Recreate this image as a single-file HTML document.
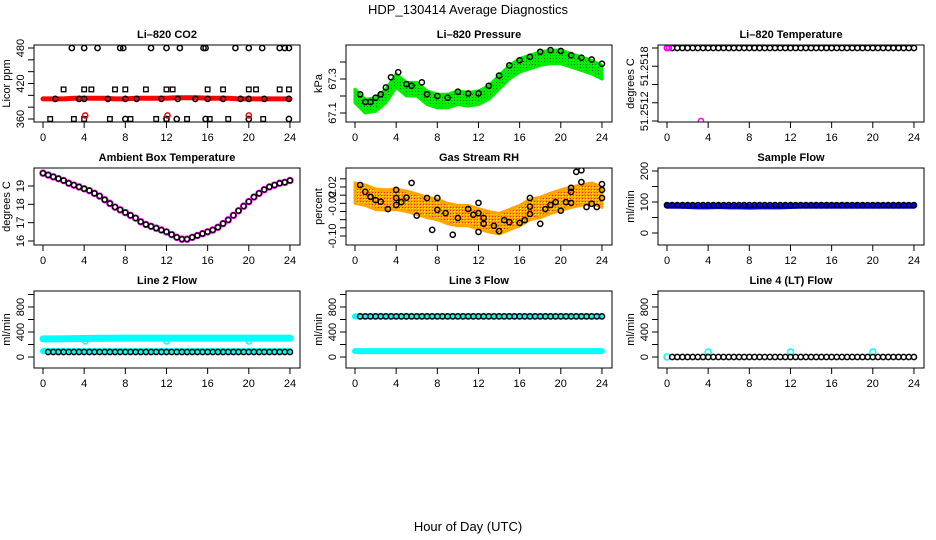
<!DOCTYPE html>
<html><head><meta charset="utf-8">
<style>
html,body{margin:0;padding:0;background:#fff;}
svg{display:block;font-family:"Liberation Sans",Arial,sans-serif;}
</style></head>
<body>
<svg id="chart" width="936" height="540" viewBox="0 0 936 540">
<defs>
<pattern id="greenPat" width="3" height="3" patternUnits="userSpaceOnUse"><rect width="3" height="3" fill="#00ee00"/><rect x="1" y="1" width="1" height="1" fill="#006600"/></pattern>
<pattern id="orangePat" width="3" height="3" patternUnits="userSpaceOnUse"><rect width="3" height="3" fill="#ffa500"/><rect x="1" y="1" width="1" height="1" fill="#ffff00"/><rect x="0" y="0" width="1" height="1" fill="#ff2000"/></pattern>
</defs>
<text x="468" y="14" text-anchor="middle" font-size="13">HDP_130414  Average Diagnostics</text>
<text x="468" y="531" text-anchor="middle" font-size="13">Hour of Day (UTC)</text>
</svg>
<script>
const halfHours=[0,0.5,1,1.5,2,2.5,3,3.5,4,4.5,5,5.5,6,6.5,7,7.5,8,8.5,9,9.5,10,10.5,11,11.5,12,12.5,13,13.5,14,14.5,15,15.5,16,16.5,17,17.5,18,18.5,19,19.5,20,20.5,21,21.5,22,22.5,23,23.5,24];
const hours=[0,1,2,3,4,5,6,7,8,9,10,11,12,13,14,15,16,17,18,19,20,21,22,23,24];
const xTicks=[0,4,8,12,16,20,24];
// CO2
const co2Red=[394,394,394,395,395,395,395,394,394,395,395,395,395,396,396,396,395,395,395,394,394,394,394,394,394];
const co2CircHigh=[2.8,4,5.3,7.5,7.8,10.5,12,13.3,15.6,15.8,18.7,20,21.3,23,23.5,23.9];
const co2CircMid=[1.2,3.5,4,6.3,8,9.1,11.5,13.1,14.8,16,17.5,19.2,20,21.5,23.9];
const co2CircLow=[8,12,13,15.8,20,23.9];
const co2SqMid=[2,4,4.7,7,8,10,12,12.6,16,17.5,20,20.7,23,23.9];
const co2SqLow=[0.7,3,4,6.5,8.5,11,12,14,16.2,18,21.4];
const co2RedCirc=[4.1,12.1,20];
// Pressure
const presHours=[0.5,1,1.5,2,2.5,3,3.5,4.2,5,5.5,6.5,7,8,9,10,11,12,13,14,15,16,17,18,19,20,21,22,23,24];
const presVals=[67.21,67.165,67.165,67.19,67.21,67.25,67.31,67.34,67.27,67.26,67.28,67.21,67.2,67.19,67.225,67.215,67.215,67.26,67.32,67.38,67.41,67.43,67.46,67.47,67.465,67.44,67.425,67.415,67.39];
const presGreen=[67.2,67.14,67.15,67.2,67.29,67.24,67.24,67.19,67.17,67.17,67.19,67.18,67.19,67.22,67.28,67.34,67.38,67.4,67.42,67.43,67.43,67.41,67.39,67.37,67.34];
// Temperature
const tempBlack=[51.2518,51.2518,51.2518,51.2518,51.2518,51.2518,51.2518,51.2518,51.2518,51.2518,51.2518,51.2518,51.2518,51.2518,51.2518,51.2518,51.2518,51.2518,51.2518,51.2518,51.2518,51.2518,51.2518,51.2518,51.2518];
const tempMagentaHours=[0,0.2,3.3];
const tempMagentaVals=[51.2518,51.2518,51.2512];
// Ambient
const ambHours=[0,0.5,1,1.5,2,2.5,3,3.5,4,4.5,5,5.5,6,6.5,7,7.5,8,8.5,9,9.5,10,10.5,11,11.5,12,12.5,13,13.5,14,14.5,15,15.5,16,16.5,17,17.5,18,18.5,19,19.5,20,20.5,21,21.5,22,22.5,23,23.5,24];
const ambVals=[19.7,19.6,19.5,19.4,19.3,19.15,19.05,18.95,18.85,18.75,18.6,18.45,18.25,18.05,17.85,17.7,17.55,17.4,17.25,17.05,16.9,16.8,16.7,16.6,16.5,16.35,16.2,16.1,16.1,16.2,16.3,16.4,16.5,16.6,16.75,16.95,17.15,17.4,17.65,17.9,18.15,18.4,18.6,18.8,18.95,19.05,19.15,19.2,19.3];
// RH
const rhHours=[0.5,1,1.5,2,2.5,3.2,4,4,4,4.5,5,5.5,6,7,7.5,8,8,8.8,9.5,10,11,11.5,12,12,12,12.5,12.5,13.5,14,14.5,15,16,16.5,17,17,17,18,18.5,19,19.5,20,20.5,21,21,21,21.5,22,22,22.5,23,23.5,24,24,24];
const rhVals=[0.025,0.008,-0.004,-0.012,-0.016,-0.034,0.013,-0.024,-0.007,-0.017,-0.006,0.03,-0.05,-0.007,-0.085,-0.007,-0.036,-0.044,-0.097,-0.056,-0.034,-0.048,-0.044,-0.019,-0.09,-0.056,-0.07,-0.075,-0.088,-0.061,-0.066,-0.068,-0.061,-0.007,-0.028,-0.046,-0.07,-0.034,-0.024,-0.017,-0.038,-0.017,-0.019,0.018,0.008,0.057,0.032,0.061,-0.029,-0.021,-0.029,0.013,-0.007,0.027];
const rhCloud=[0.005,0.0,-0.01,-0.012,-0.01,-0.015,-0.022,-0.03,-0.035,-0.045,-0.05,-0.05,-0.058,-0.065,-0.07,-0.06,-0.05,-0.035,-0.03,-0.02,-0.012,-0.005,0.0,0.005,-0.005];
// Flows
const sampleBlue=[88,88,87,86,86,87,86,86,85,86,86,86,87,88,88,88,88,88,88,88,88,88,88,88,88];
const sampleBlack=[90,90,90,90,90,90,90,90,90,90,90,90,90,90,90,90,90,90,90,90,90,90,90,90,90,90,90,90,90,90,90,90,90,90,90,90,90,90,90,90,90,90,90,90,90,90,90,90,90];
const line2Upper=[290,290,292,294,296,298,300,300,302,302,302,302,302,302,302,302,302,302,302,302,302,302,302,302,302];
const line2Lower=[95,95,95,95,95,95,95,95,95,95,95,95,95,95,95,95,95,95,95,95,95,95,95,95,95];
const line2Black=[80,80,80,80,80,80,80,80,80,80,80,80,80,80,80,80,80,80,80,80,80,80,80,80,80,80,80,80,80,80,80,80,80,80,80,80,80,80,80,80,80,80,80,80,80,80,80,80,80];
const line2Dips=[4.1,12,20];
const line3Upper=[650,650,650,650,650,650,650,650,650,650,650,650,650,650,650,650,650,650,650,650,650,650,650,650,650];
const line3Lower=[95,95,95,95,95,95,95,95,95,95,95,95,95,95,95,95,95,95,95,95,95,95,95,95,95];
const line3Black=[650,650,650,650,650,650,650,650,650,650,650,650,650,650,650,650,650,650,650,650,650,650,650,650,650,650,650,650,650,650,650,650,650,650,650,650,650,650,650,650,650,650,650,650,650,650,650,650,650];
const line4Black=[0,0,0,0,0,0,0,0,0,0,0,0,0,0,0,0,0,0,0,0,0,0,0,0,0,0,0,0,0,0,0,0,0,0,0,0,0,0,0,0,0,0,0,0,0,0,0,0,0];
const line4CyanHours=[0,4,12,20];
const line4CyanVals=[0,80,80,80];

const NS='http://www.w3.org/2000/svg';
const svg=document.getElementById('chart');
function mk(tag,attrs,parent){const e=document.createElementNS(NS,tag);for(const k in attrs)e.setAttribute(k,attrs[k]);(parent||svg).appendChild(e);return e;}

function panel(col,row,cfg){
  const L=34+312*col, R=L+266, T=45+123*row, B=T+77;
  const g=mk('g',{});
  
  
  const xs=h=>L+9+h*10.29;
  const ys=v=>T+cfg.p1+(v-cfg.v1)*(cfg.p2-cfg.p1)/(cfg.v2-cfg.v1);
  const t=mk('text',{x:(L+R)/2,y:T-7,'text-anchor':'middle','font-size':11,'font-weight':'bold'},g);
  t.textContent=cfg.title;
  
  
  const xa=mk('g',{},g);
  
  
  mk('line',{x1:xs(0),x2:xs(24),y1:B,y2:B,stroke:'#000'},xa);
  xTicks.forEach(h=>{mk('line',{x1:xs(h),x2:xs(h),y1:B,y2:B+6,stroke:'#000'},xa);
    const l=mk('text',{x:xs(h),y:B+19,'text-anchor':'middle','font-size':11},xa);l.textContent=h;});
  const ya=mk('g',{},g);
  
  
  const tk=cfg.ticks;
  mk('line',{x1:L,x2:L,y1:ys(tk[0]),y2:ys(tk[tk.length-1]),stroke:'#000'},ya);
  tk.forEach(v=>mk('line',{x1:L,x2:L-6,y1:ys(v),y2:ys(v),stroke:'#000'},ya));
  cfg.labels.forEach(([v,txt])=>{const y=ys(v);const l=mk('text',{x:L-10,y:y,'text-anchor':'middle','font-size':11,transform:`rotate(-90 ${L-10} ${y})`},ya);l.textContent=txt;});
  const yl=mk('text',{x:L-24,y:(T+B)/2,'text-anchor':'middle','font-size':11,transform:`rotate(-90 ${L-24} ${(T+B)/2})`},g);
  yl.textContent=cfg.ylab;
  
  
  const cp='clip'+col+row;
  const cl=mk('clipPath',{id:cp},g);mk('rect',{x:L,y:T,width:R-L,height:B-T},cl);
  const plot=mk('g',{'clip-path':`url(#${cp})`},g);
  
  
  cfg.draw(plot,xs,ys);
  mk('rect',{x:L,y:T,width:R-L,height:B-T,fill:'none',stroke:'#000'},g);
}
function circles(p,xs,ys,hs,vs,color,name,r){
  hs.forEach((h,i)=>{const c=mk('circle',{cx:xs(h),cy:ys(vs[i]),r:r||2.6,fill:'none',stroke:color,'stroke-width':1.5},p);
    
    });
}
function squares(p,xs,ys,hs,v,name){
  hs.forEach(h=>{const s=mk('rect',{x:xs(h)-2.3,y:ys(v)-2.3,width:4.6,height:4.6,fill:'none',stroke:'#000','stroke-width':1.3},p);
    
    });
}
function band(p,xs,ys,hs,vs,color,w,name){
  const l=mk('polyline',{points:hs.map((h,i)=>xs(h)+','+ys(vs[i])).join(' '),fill:'none',stroke:color,'stroke-width':w,'stroke-linecap':'round'},p);
  
  
}
function area(p,xs,ys,hs,vs,half,fill,name){
  const up=hs.map((h,i)=>xs(h)+','+ys(vs[i]+half));
  const dn=hs.map((h,i)=>xs(h)+','+ys(vs[i]-half)).reverse();
  const a=mk('polygon',{points:up.concat(dn).join(' '),fill:fill,stroke:fill==='url(#greenPat)'?'#00ee00':'#ffa500','stroke-width':3,'stroke-linejoin':'round'},p);
  
  
}
const tickRange=(a,b,s)=>{const r=[];for(let v=a;v<=b+s/1000;v+=s)r.push(+v.toFixed(6));return r;};

panel(0,0,{name:'panel-co2',title:'Li\u2013820 CO2',ylab:'Licor ppm',v1:480,p1:3,v2:360,p2:74,ticks:tickRange(360,480,20),labels:[[360,'360'],[420,'420'],[480,'480']],
 draw:(p,xs,ys)=>{band(p,xs,ys,hours,co2Red,'#ff0000',5,'co2-red-band');
  circles(p,xs,ys,co2CircMid,co2CircMid.map(()=>394),'#000','co2-circle');
  circles(p,xs,ys,co2CircHigh,co2CircHigh.map(()=>480),'#000','co2-circle');
  circles(p,xs,ys,co2CircLow,co2CircLow.map(()=>360),'#000','co2-circle');
  squares(p,xs,ys,co2SqMid,410,'co2-square');squares(p,xs,ys,co2SqLow,360,'co2-square');
  circles(p,xs,ys,co2RedCirc,co2RedCirc.map(()=>366),'#ff0000','co2-red-circle');}});

panel(1,0,{name:'panel-pressure',title:'Li\u2013820 Pressure',ylab:'kPa',v1:67.1,p1:68,v2:67.3,p2:34,ticks:[67.1,67.2,67.3,67.4],labels:[[67.1,'67.1'],[67.3,'67.3']],
 draw:(p,xs,ys)=>{area(p,xs,ys,hours,presGreen,0.04,'url(#greenPat)','pressure-green-band');
  circles(p,xs,ys,presHours,presVals,'#000','pressure-point');}});

panel(2,0,{name:'panel-temperature',title:'Li\u2013820 Temperature',ylab:'degrees C',v1:51.2518,p1:3,v2:51.2512,p2:76,ticks:[51.2512,51.25135,51.2515,51.25165,51.2518],labels:[[51.25165,'51.2518'],[51.25128,'51.2512']],
 draw:(p,xs,ys)=>{circles(p,xs,ys,halfHours,halfHours.map(()=>51.2518),'#000','temperature-point');
  circles(p,xs,ys,tempMagentaHours,tempMagentaVals,'#ff00ff','temperature-magenta-point');}});

panel(0,1,{name:'panel-ambient-temp',title:'Ambient Box Temperature',ylab:'degrees C',v1:19,p1:18,v2:16,p2:73,ticks:[16,17,18,19],labels:[[16,'16'],[17,'17'],[18,'18'],[19,'19']],
 draw:(p,xs,ys)=>{circles(p,xs,ys,ambHours,ambVals,'#ff00ff','ambient-magenta',3);
  circles(p,xs,ys,ambHours,ambVals,'#000','ambient-point',2.4);}});

panel(1,1,{name:'panel-rh',title:'Gas Stream RH',ylab:'percent',v1:0.02,p1:19,v2:-0.10,p2:68,ticks:[-0.10,-0.08,-0.06,-0.04,-0.02,0,0.02,0.04],labels:[[0.02,'0.02'],[-0.02,'-0.02'],[-0.10,'-0.10']],
 draw:(p,xs,ys)=>{area(p,xs,ys,hours,rhCloud,0.025,'url(#orangePat)','rh-orange-cloud');
  circles(p,xs,ys,rhHours,rhVals,'#000','rh-point');}});

panel(2,1,{name:'panel-sample-flow',title:'Sample Flow',ylab:'ml/min',v1:0,p1:65,v2:200,p2:3,ticks:[0,50,100,150,200],labels:[[0,'0'],[100,'100'],[200,'200']],
 draw:(p,xs,ys)=>{band(p,xs,ys,hours,sampleBlue,'#0000ff',6,'sample-blue-band');
  circles(p,xs,ys,halfHours,sampleBlack,'#000','sample-point');}});

const flowCfg={ylab:'ml/min',v1:0,p1:66,v2:800,p2:16,ticks:[0,200,400,600,800,1000],labels:[[0,'0'],[400,'400'],[800,'800']]};
panel(0,2,Object.assign({},flowCfg,{name:'panel-line2-flow',title:'Line 2 Flow',
 draw:(p,xs,ys)=>{band(p,xs,ys,hours,line2Upper,'#00ffff',7,'line2-cyan-upper');
  circles(p,xs,ys,line2Dips,line2Dips.map(()=>250),'#00ffff','line2-cyan-dip');
  band(p,xs,ys,hours,line2Lower,'#00ffff',6,'line2-cyan-lower');
  circles(p,xs,ys,halfHours.slice(1),line2Black.slice(1),'#000','line2-point');}}));

panel(1,2,Object.assign({},flowCfg,{name:'panel-line3-flow',title:'Line 3 Flow',
 draw:(p,xs,ys)=>{band(p,xs,ys,hours,line3Upper,'#00ffff',6,'line3-cyan-upper');
  band(p,xs,ys,hours,line3Lower,'#00ffff',6,'line3-cyan-lower');
  circles(p,xs,ys,halfHours.slice(1),line3Black.slice(1),'#000','line3-point');}}));

panel(2,2,Object.assign({},flowCfg,{name:'panel-line4-flow',title:'Line 4 (LT) Flow',
 draw:(p,xs,ys)=>{circles(p,xs,ys,line4CyanHours,line4CyanVals,'#00ffff','line4-cyan-point',3);
  circles(p,xs,ys,halfHours.slice(1),line4Black.slice(1),'#000','line4-point');}}));
</script>
</body></html>
